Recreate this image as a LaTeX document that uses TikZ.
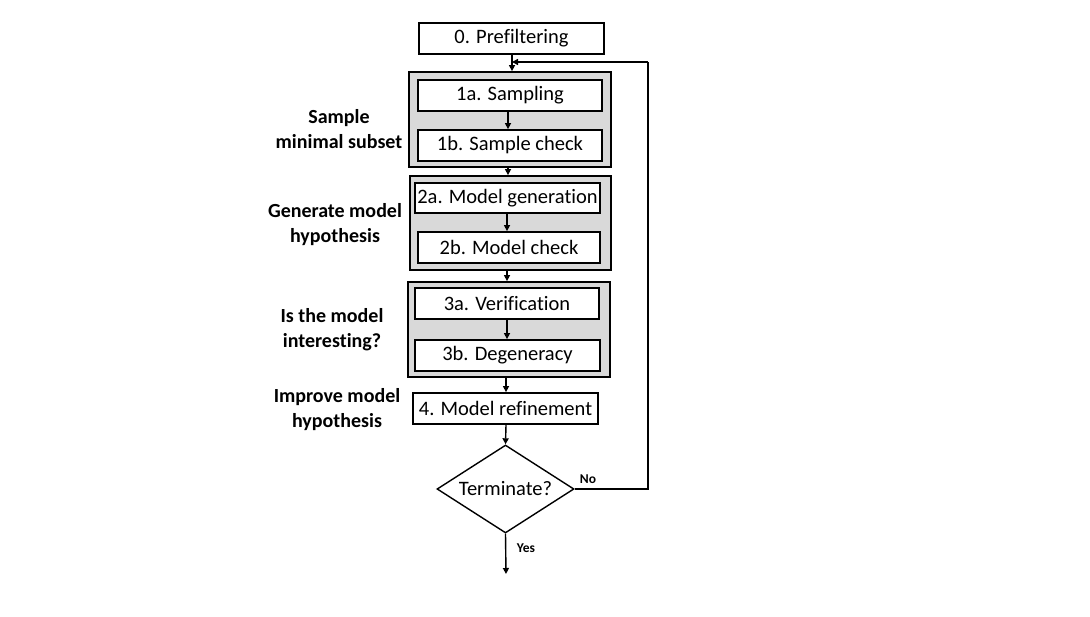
\documentclass[tikz,border=0pt]{standalone}
\usepackage{fontspec}
\setmainfont[Ligatures=NoCommon]{Carlito}
\usetikzlibrary{shapes.geometric,arrows.meta}
\definecolor{grp}{HTML}{D9D9D9}
\tikzset{
  box/.style={draw=black,line width=1.8pt,fill=white,minimum width=#1,minimum height=31pt,inner sep=0pt,font=\fontsize{20.5}{24}\selectfont},
  group/.style={draw=black,line width=1.8pt,fill=grp,inner sep=0pt},
  lab/.style={align=center,font=\bfseries\fontsize{20}{25}\selectfont,inner sep=0pt},
  small/.style={font=\bfseries\fontsize{13.5}{16}\selectfont,inner sep=0pt},
  arr/.style={line width=1.4pt,-{Triangle[length=6pt,width=6pt]}},
  ln/.style={line width=1.4pt}
}
\begin{document}
\begin{tikzpicture}[x=1pt,y=-1pt]
\useasboundingbox (0,0) rectangle (1090,617);
% groups
\node[group,minimum width=202pt,minimum height=95pt] (g1) at (510,119.5) {};
\node[group,minimum width=201pt,minimum height=94pt] (g2) at (510.5,223) {};
\node[group,minimum width=202pt,minimum height=95pt] (g3) at (509,329.5) {};
% boxes
\node[box=185pt] (pre) at (511.5,38.5) {0. Prefiltering};
\node[box=184pt] (s1a) at (510,95.5) {1a. Sampling};
\node[box=184pt] (s1b) at (510,145.5) {1b. Sample check};
\node[box=185pt,minimum height=30pt] (s2a) at (507.5,198) {2a. Model generation};
\node[box=182pt] (s2b) at (509,247.5) {2b. Model check};
\node[box=184pt] (s3a) at (507,303.5) {3a. Verification};
\node[box=185pt] (s3b) at (507.5,355.5) {3b. Degeneracy};
\node[box=185pt] (s4) at (505.5,408.5) {4. Model refinement};
\node[draw=black,line width=1.4pt,diamond,aspect=1.557,minimum width=137pt,minimum height=88pt,inner sep=0pt,font=\fontsize{20.5}{24}\selectfont] (term) at (505.5,489) {Terminate?};
% side labels
\node[lab] (l1) at (339,129.5) {Sample\\minimal subset};
\node[lab] (l2) at (335,224.5) {Generate model\\hypothesis};
\node[lab] (l3) at (332,329.5) {Is the model\\interesting?};
\node[lab] (l4) at (337,410) {Improve model\\hypothesis};
% x coordinates of connectors
\coordinate (xa) at (512,0);
\coordinate (xb) at (508,0);
\coordinate (xc) at (507,0);
\coordinate (xd) at (506,0);
\coordinate (join) at (512,62);
\coordinate (rt) at (648,62);
\coordinate (rb) at (648,489);
\coordinate (yend) at (506,574);
% connectors
\draw[arr] (xa |- pre.south) -- (xa |- g1.north);
\draw[arr] (xb |- s1a.south) -- (xb |- s1b.north);
\draw[arr] (xb |- g1.south) -- (xb |- g2.north);
\draw[arr] (xc |- s2a.south) -- (xc |- s2b.north);
\draw[arr] (xc |- g2.south) -- (xc |- g3.north);
\draw[arr] (xc |- s3a.south) -- (xc |- s3b.north);
\draw[arr] (xd |- g3.south) -- (xd |- s4.north);
\draw[arr] (xd |- s4.south) -- (term.north);
\draw[arr] (term.south) -- (yend);
\draw[ln] (term.east) -- (rb) -- (rt);
\draw[arr] (rt) -- (join);
\node[small] (no) at (588,479) {No};
\node[small] (yes) at (526,548) {Yes};
\end{tikzpicture}
\end{document}
